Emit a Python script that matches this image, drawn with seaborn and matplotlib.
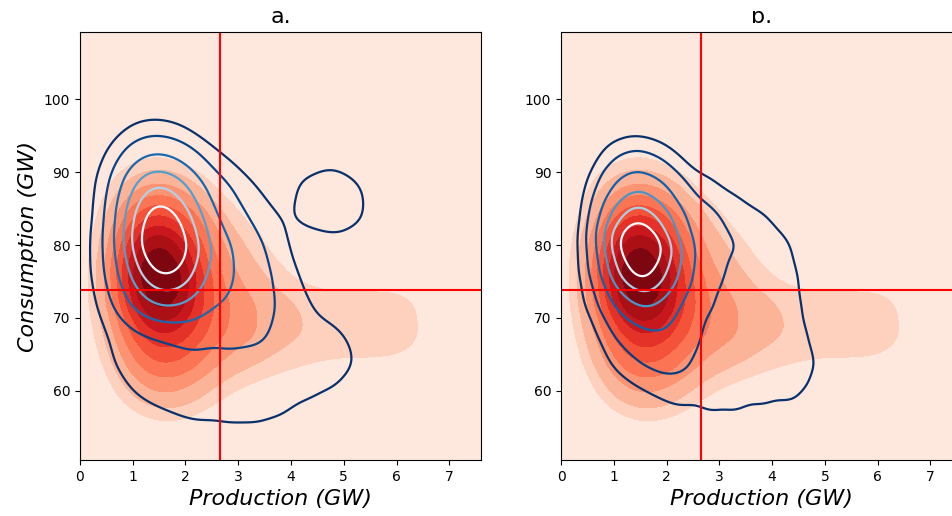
import numpy as np
import pandas as pd
import seaborn as sns
import matplotlib.pyplot as plt
from matplotlib.patches import Rectangle
from matplotlib.colors import ListedColormap, BoundaryNorm

# lattice of (production, consumption) cells
prod_grid = [0.3, 0.7, 1.1, 1.5, 1.9, 2.3, 2.8, 3.3, 3.8, 4.3, 4.8, 5.3, 5.8, 6.3]
cons_grid = [96, 92, 88, 84, 80, 76, 72, 68, 64, 60, 56]

# estimated hour counts per cell, rows = cons_grid, cols = prod_grid
reds_counts = [
    [0, 0, 0, 0, 0, 0, 0, 0, 0, 0, 0, 0, 0, 0],
    [0, 0.1, 0.4, 0.6, 0.4, 0.1, 0, 0, 0, 0, 0, 0, 0, 0],
    [0, 0.6, 1.6, 2.2, 1.7, 1.0, 0.3, 0, 0, 0, 0, 0, 0, 0],
    [0.1, 1.1, 4, 6, 4.2, 2.4, 1.1, 0.4, 0, 0, 0, 0, 0, 0],
    [0.3, 1.6, 7, 13, 7.5, 3.4, 1.9, 1.0, 0.4, 0.1, 0, 0, 0, 0],
    [0.4, 2.1, 9, 20, 9.5, 4.3, 2.6, 1.6, 0.8, 0.4, 0.3, 0.3, 0.3, 0.2],
    [0.4, 2.1, 8, 14, 8, 4.8, 3.3, 2.4, 1.6, 1.2, 1.1, 1.1, 1.1, 1.1],
    [0.3, 1.6, 5, 7.5, 5.5, 4.3, 3.3, 2.5, 1.7, 1.3, 1.2, 1.2, 1.2, 1.2],
    [0.1, 1.1, 3.2, 4.3, 3.8, 2.8, 1.9, 1.4, 1.0, 0.8, 0.7, 0.7, 0.7, 0.6],
    [0, 0.5, 1.6, 2.2, 1.8, 1.2, 0.7, 0.4, 0.2, 0.1, 0.1, 0.1, 0.1, 0],
    [0, 0.1, 0.4, 0.6, 0.5, 0.3, 0.1, 0, 0, 0, 0, 0, 0, 0],
]

blues_a_counts = [
    [0, 0.05, 0.3, 0.4, 0.3, 0.05, 0, 0, 0, 0, 0, 0, 0, 0],
    [0.1, 0.4, 1.4, 2, 1.5, 0.8, 0.3, 0, 0, 0, 0.15, 0, 0, 0],
    [0.2, 0.8, 3.5, 5.5, 4, 2, 1.1, 0.4, 0.1, 0.6, 0.9, 0.5, 0, 0],
    [0.2, 1, 5.5, 10, 7, 3, 1.5, 0.8, 0.3, 0.6, 0.9, 0.5, 0, 0],
    [0.3, 1.2, 6.5, 13, 9, 4.5, 2.3, 1.3, 0.5, 0.1, 0.1, 0, 0, 0],
    [0.3, 1.2, 4.5, 8, 6.5, 3.5, 2.3, 1.7, 0.6, 0.3, 0.1, 0, 0, 0],
    [0.2, 0.9, 2.5, 3.5, 3, 2.2, 2.1, 1.7, 0.8, 0.4, 0.2, 0, 0, 0],
    [0.2, 0.4, 0.6, 0.7, 0.9, 1.1, 1.4, 1.3, 0.7, 0.5, 0.5, 0.3, 0, 0],
    [0.1, 0.4, 0.5, 0.5, 0.6, 0.7, 0.7, 0.6, 0.6, 0.6, 0.6, 0.4, 0, 0],
    [0, 0.2, 0.4, 0.5, 0.5, 0.6, 0.6, 0.6, 0.6, 0.5, 0.4, 0.2, 0, 0],
    [0, 0, 0.1, 0.2, 0.3, 0.4, 0.5, 0.5, 0.4, 0.2, 0.1, 0, 0, 0],
]

blues_b_counts = [
    [0, 0, 0.1, 0.15, 0.1, 0, 0, 0, 0, 0, 0, 0, 0, 0],
    [0, 0.2, 0.7, 1.0, 0.7, 0.3, 0.1, 0, 0, 0, 0, 0, 0, 0],
    [0.1, 0.5, 2, 3.3, 2.2, 1.0, 0.6, 0.3, 0.1, 0, 0, 0, 0, 0],
    [0.1, 0.8, 4.5, 8, 5, 2.0, 1.2, 0.8, 0.5, 0.3, 0, 0, 0, 0],
    [0.2, 1, 9, 18, 9, 3, 1.4, 1, 0.7, 0.5, 0.1, 0, 0, 0],
    [0.2, 0.9, 6, 11, 6, 2.6, 1.3, 0.8, 0.7, 0.6, 0.2, 0, 0, 0],
    [0.2, 0.6, 2.4, 3.8, 2.8, 1.6, 1, 0.6, 0.5, 0.6, 0.3, 0, 0, 0],
    [0.1, 0.3, 1.0, 1.5, 1.8, 1.4, 0.8, 0.6, 0.6, 0.6, 0.4, 0, 0, 0],
    [0, 0.2, 0.5, 0.8, 1.1, 1, 0.7, 0.6, 0.6, 0.7, 0.5, 0, 0, 0],
    [0, 0, 0.2, 0.3, 0.4, 0.5, 0.6, 0.6, 0.6, 0.6, 0.4, 0, 0, 0],
    [0, 0, 0, 0.1, 0.2, 0.3, 0.4, 0.4, 0.3, 0.2, 0.1, 0, 0, 0],
]

prod_mean = 2.65
cons_mean = 73.8
titles = ["a.", "b."]

reds_levels = [0, 0.07, 0.16, 0.26, 0.36, 0.46, 0.56, 0.66, 0.76, 0.87, 1]
blues_levels = [0.06, 0.2, 0.35, 0.5, 0.65, 0.82]
reds_cmap = ListedColormap(plt.cm.Reds(np.linspace(0.08, 0.95, len(reds_levels) - 1)))


def to_frame(counts):
    rows = []
    for cons, row in zip(cons_grid, counts):
        for prod, w in zip(prod_grid, row):
            if w > 0:
                rows.append((prod, cons, w))
    return pd.DataFrame(rows, columns=["prod", "cons", "w"])


reds = to_frame(reds_counts)
blues = [to_frame(blues_a_counts), to_frame(blues_b_counts)]

fig = plt.figure(figsize=(9.53, 5.16), dpi=100)
axes = [fig.add_axes([0.0839, 0.1085, 0.4208, 0.8289]),
        fig.add_axes([0.5887, 0.1085, 0.4208, 0.8289])]

for i, ax in enumerate(axes):
    sns.kdeplot(data=reds, x="prod", y="cons", weights="w", fill=True,
                thresh=0, levels=reds_levels, cmap="Reds", bw_method=0.32,
                cut=12, ax=ax)
    # one even colour step per band
    cset = ax.collections[-1]
    cset.set_cmap(reds_cmap)
    cset.set_norm(BoundaryNorm(cset.levels, reds_cmap.N))

    sns.kdeplot(data=blues[i], x="prod", y="cons", weights="w",
                levels=blues_levels, cmap="Blues_r", bw_method=0.3,
                linewidths=1.6, ax=ax)
    ax.axvline(prod_mean, color="red", lw=1.5)
    ax.axhline(cons_mean, color="red", lw=1.5)
    ax.set_xlim(0, 7.6)
    ax.set_ylim(50.5, 109.2)
    ax.set_xticks(range(0, 8))
    ax.set_yticks(range(60, 101, 10))
    ax.tick_params(labelsize=10)
    ax.set_title(titles[i], fontsize=16, pad=7)
    ax.set_xlabel("Production (GW)", fontsize=16, style="italic")
    ax.set_ylabel("")

axes[0].set_ylabel("Consumption (GW)", fontsize=16, style="italic")

# the source image is cropped just through the panel titles
fig.add_artist(Rectangle((0, 1 - 11 / 516), 1, 11 / 516, transform=fig.transFigure,
                         facecolor="white", edgecolor="none", zorder=10))

fig.savefig("out.png", dpi=100)
